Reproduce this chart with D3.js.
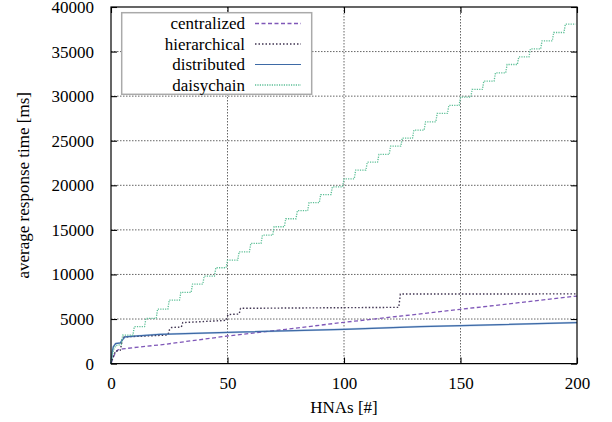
<!DOCTYPE html>
<html>
<head>
<meta charset="utf-8">
<script src="https://cdn.jsdelivr.net/npm/d3@7"></script>
<style>
  body { margin: 0; background: #fff; }
</style>
</head>
<body>
<svg width="612" height="422"></svg>
<script>
// data: [HNAs, average response time ms]
var centralized = [[0,0],[1,700],[2,1300],[3,1550],[5,1650],[10,1800],[23,2160],[50,3094],[75,3850],[100,4630],[125,5350],[150,6087],[175,6830],[200,7580]];
var hierarchical = [[0,0],[1,800],[2,1400],[4,1500],[5,2900],[6,3000],[24,3200],[24.5,3250],[25,3750],[26,4050],[30.2,4100],[30.8,4600],[49.5,4850],[50.2,5500],[55,5560],[55.6,6200],[123.5,6310],[124.2,7800],[200,7820]];
var distributed = [[0,0],[0.5,1300],[1,1900],[2,2250],[4,2320],[5,2700],[6,3000],[10,3080],[21,3280],[50,3500],[100,3840],[133,4150],[150,4250],[200,4600]];
var daisyStart = [[0,0],[1,1500],[2,2000],[4.4,2150]];
// daisychain plateau level for each block of 5 HNAs, starting at 5
var daisyLevels = [3200,4140,5080,6120,7130,7990,8920,9820,10750,11610,12540,13490,14400,15350,16250,17150,18050,18950,19830,20730,21700,22600,23460,24390,25290,26190,27120,28060,28960,29880,30750,31680,32610,33550,34400,35300,36200,37140,38070];

var xTicks = [0, 50, 100, 150, 200];
var yTicks = [0, 5000, 10000, 15000, 20000, 25000, 30000, 35000, 40000];

var FONT = "'Liberation Serif', 'DejaVu Serif', 'Times New Roman', serif";

var svg = d3.select("svg"),
    margin = {top: 7, right: 35, bottom: 58.4, left: 111},
    width = +svg.attr("width"),
    height = +svg.attr("height"),
    cWidth = width - margin.left - margin.right,
    cHeight = height - margin.top - margin.bottom;

var g = svg.append("g").attr("transform", "translate(" + margin.left + "," + margin.top + ")");

var x = d3.scaleLinear().domain([0, 200]).range([0, cWidth]);
var y = d3.scaleLinear().domain([0, 40000]).range([cHeight, 0]);

// daisychain staircase points
var daisychain = daisyStart.slice();
daisyLevels.forEach(function(v, i) {
  var h = 5 * (i + 1);
  daisychain.push([h, v]);
  daisychain.push([Math.min(h + 4.4, 200), v]);
});

// grid
g.append("g").selectAll("line")
  .data(xTicks.slice(1, -1)).enter().append("line")
  .attr("x1", x).attr("x2", x).attr("y1", 0).attr("y2", cHeight)
  .attr("stroke", "#555").attr("stroke-width", 0.9).attr("stroke-dasharray", "1.5,1.5");
g.append("g").selectAll("line")
  .data(yTicks.slice(1, -1)).enter().append("line")
  .attr("y1", y).attr("y2", y).attr("x1", 0).attr("x2", cWidth)
  .attr("stroke", "#555").attr("stroke-width", 0.9).attr("stroke-dasharray", "1.5,1.5");

// axes (ticks inward, mirrored)
var tick = 6;
g.append("g").attr("transform", "translate(0," + cHeight + ")")
  .call(d3.axisBottom(x).tickValues(xTicks).tickFormat(d3.format("d")).tickSizeInner(-tick).tickSizeOuter(0).tickPadding(13));
g.append("g")
  .call(d3.axisLeft(y).tickValues(yTicks).tickFormat(d3.format("d")).tickSizeInner(-tick).tickSizeOuter(0).tickPadding(17));
g.append("g")
  .call(d3.axisTop(x).tickValues(xTicks).tickSizeInner(-tick).tickSizeOuter(0).tickFormat(""));
g.append("g").attr("transform", "translate(" + cWidth + ",0)")
  .call(d3.axisRight(y).tickValues(yTicks).tickSizeInner(-tick).tickSizeOuter(0).tickFormat(""));
g.selectAll(".domain").remove();
g.selectAll(".tick line").attr("stroke", "#000").attr("stroke-width", 1.1);
g.selectAll(".tick text").style("font-family", FONT).style("font-size", "17px").attr("fill", "#000");

// series
var line = d3.line().x(function(d) { return x(d[0]); }).y(function(d) { return y(d[1]); });
var series = [
  {name: "centralized", data: centralized, color: "#7f57b8", width: 1.3, dash: "4,2.5"},
  {name: "hierarchical", data: hierarchical, color: "#3f3350", width: 1.4, dash: "1.5,2"},
  {name: "distributed", data: distributed, color: "#3e6aa6", width: 1.2, dash: null},
  {name: "daisychain", data: daisychain, color: "#5cbf96", width: 1.3, dash: "1.2,1.2"}
];
var plot = g.append("g");
plot.append("path").datum(distributed).attr("d", line)
  .attr("fill", "none").attr("stroke", "#c2d5ec").attr("stroke-width", 2);
series.forEach(function(s) {
  plot.append("path").datum(s.data).attr("d", line)
    .attr("fill", "none").attr("stroke", s.color).attr("stroke-width", s.width)
    .attr("stroke-dasharray", s.dash);
});

// frame
g.append("rect").attr("width", cWidth).attr("height", cHeight)
  .attr("fill", "none").attr("stroke", "#000").attr("stroke-width", 1.2);

// legend
var legend = svg.append("g");
legend.append("rect").attr("x", 121.7).attr("y", 12.7).attr("width", 190).attr("height", 81.6)
  .attr("fill", "#fff").attr("stroke", "#aaa").attr("stroke-width", 1.5);
series.forEach(function(s, i) {
  var ry = 23.5 + i * 20.5;
  legend.append("text").attr("x", 245).attr("y", ry).attr("dy", "0.35em")
    .attr("text-anchor", "end").style("font-family", FONT).style("font-size", "17px").text(s.name);
  legend.append("line").attr("x1", 255).attr("x2", 301).attr("y1", ry).attr("y2", ry)
    .attr("stroke", s.color).attr("stroke-width", s.width).attr("stroke-dasharray", s.dash);
});

// axis titles
svg.append("text").attr("x", margin.left + cWidth / 2).attr("y", 407).attr("dy", "0.35em")
  .attr("text-anchor", "middle").style("font-family", FONT).style("font-size", "17px").text("HNAs [#]");
svg.append("text").attr("transform", "translate(23," + (margin.top + cHeight / 2) + ") rotate(-90)")
  .attr("dy", "0.35em").attr("text-anchor", "middle").style("font-family", FONT).style("font-size", "17px")
  .text("average response time [ms]");
</script>
</body>
</html>
